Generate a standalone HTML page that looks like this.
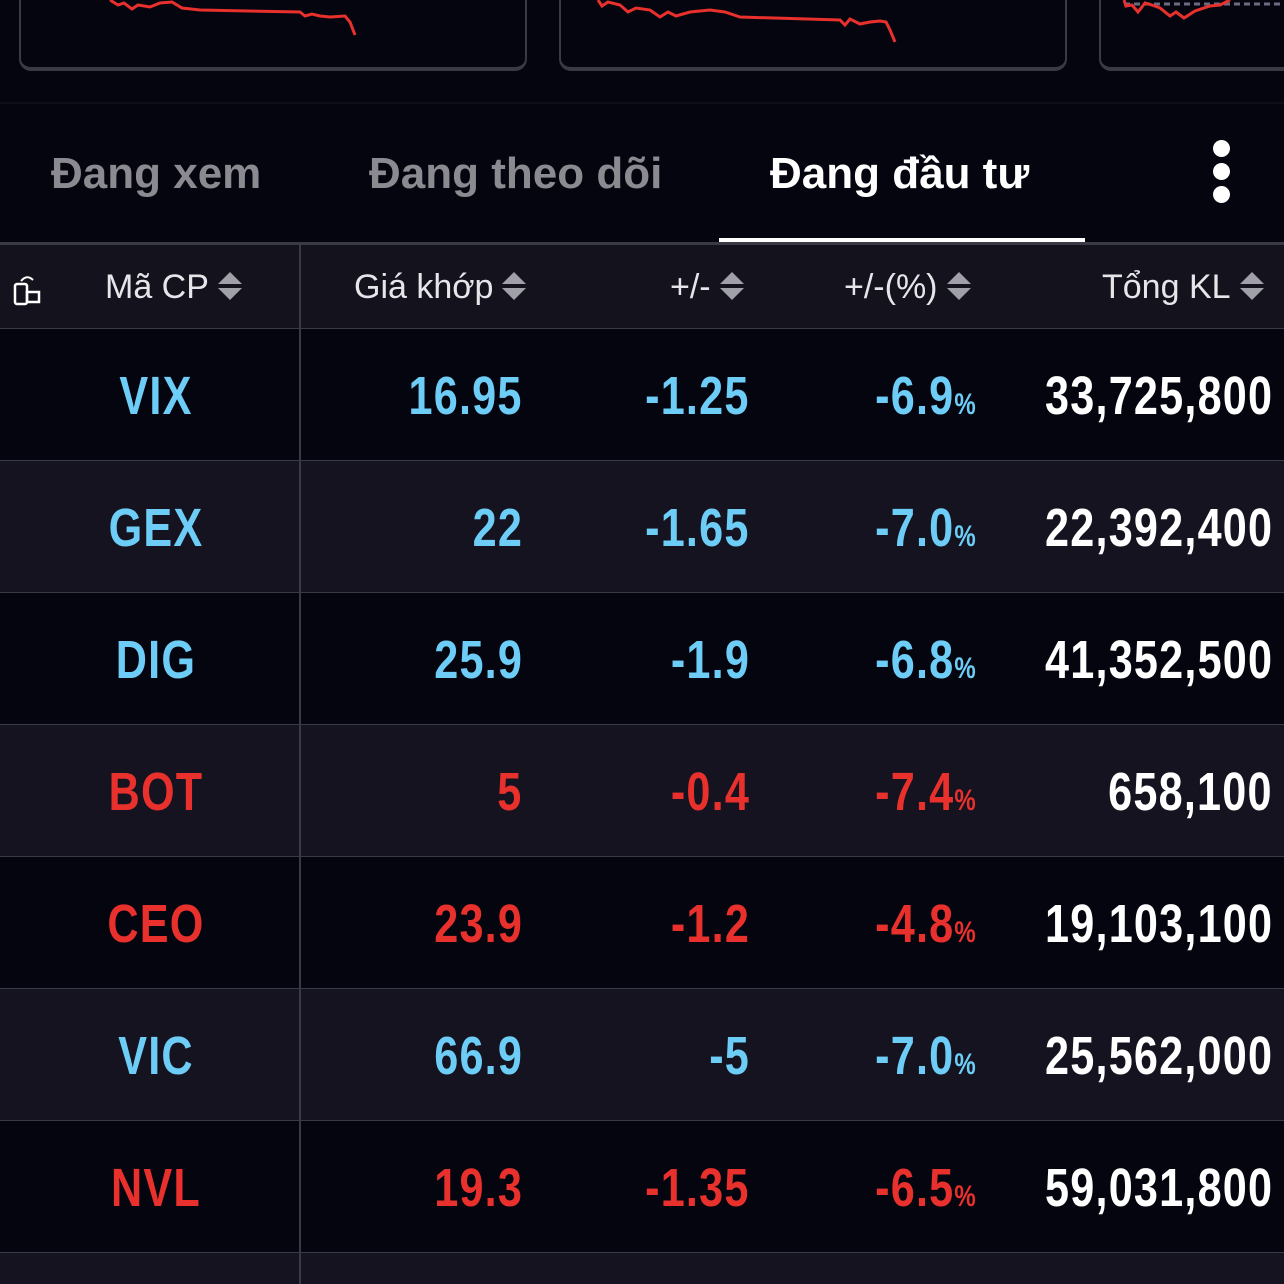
<!DOCTYPE html>
<html><head><meta charset="utf-8">
<style>
*{margin:0;padding:0;box-sizing:border-box}
html{width:1284px;height:1284px;overflow:hidden}
body{width:1284px;height:1284px;background:#05050f;overflow:hidden;font-family:"Liberation Sans",sans-serif;position:relative}
.card{position:absolute;top:-20px;width:508px;height:91px;border:2px solid #3a3a44;border-top:none;border-radius:0 0 12px 12px;border-bottom-width:4px}
.sep{position:absolute;left:0;top:102px;width:1284px;height:2px;background:#0e0e18}
.tab{position:absolute;top:149px;font-size:44px;font-weight:bold;color:#8a8a90}
.tab.active{color:#fff}
.uline{position:absolute;left:719px;top:238px;width:366px;height:4px;background:#fff}
.hdr{position:absolute;left:0;top:242px;width:1284px;height:87px;background:#14121d;border-top:3px solid #3a3a46;border-bottom:1px solid #3a3a46}
.hcell{position:absolute;font-size:34px;color:#e6e6ea;white-space:nowrap}
.sort{display:inline-block;vertical-align:middle;margin-left:8px;width:26px;height:30px;position:relative;top:-3px}
.row{position:absolute;left:0;width:1284px;height:132px;border-bottom:1px solid #3a3a46;overflow:hidden}
.cell{position:absolute;top:36px;font-weight:bold;font-size:54px;letter-spacing:1.5px;white-space:nowrap;transform:scaleX(0.8);transform-origin:right center}
.sym{left:0;width:312px;text-align:center;transform-origin:center center}
.r{text-align:right}
.pct{font-size:30px;letter-spacing:0}
.vline{position:absolute;left:299px;top:245px;width:2px;height:1039px;background:#3a3a46}
</style></head><body>
<div class="card" style="left:19px"></div>
<div class="card" style="left:559px"></div>
<div class="card" style="left:1099px;width:185px;border-right:none;border-radius:0 0 0 12px"></div>
<svg width="1284" height="110" style="position:absolute;left:0;top:0">
<polyline fill="none" stroke="#e8302c" stroke-width="3" points="110,0 118,5 124,3 132,9 138,5 150,7 160,3 172,2 182,8 200,10 300,12 305,16 312,14 320,16 330,17 345,16 350,22 355,35"/>
<polyline fill="none" stroke="#e8302c" stroke-width="3" points="598,0 602,6 608,2 620,5 628,12 636,8 650,10 660,17 668,12 676,16 690,12 710,10 725,12 740,17 840,20 845,25 850,19 860,24 870,22 880,21 886,22 890,30 895,42"/>
<line x1="1124" y1="4" x2="1284" y2="4" stroke="#6a6a80" stroke-width="3" stroke-dasharray="6,4"/>
<polyline fill="none" stroke="#e8302c" stroke-width="3" points="1124,0 1126,6 1132,5 1138,12 1145,3 1152,5 1160,8 1170,16 1176,12 1184,18 1195,11 1210,6 1220,5 1230,0"/>
</svg>
<div class="sep"></div>
<div class="tab" style="left:51px">Đang xem</div>
<div class="tab" style="left:369px">Đang theo dõi</div>
<div class="tab active" style="left:770px">Đang đầu tư</div>
<div style="position:absolute;left:1210px;top:140px;width:22px;height:64px">
<div style="width:17px;height:17px;border-radius:50%;background:#fff;margin:0 auto 6px"></div>
<div style="width:17px;height:17px;border-radius:50%;background:#fff;margin:0 auto 6px"></div>
<div style="width:17px;height:17px;border-radius:50%;background:#fff;margin:0 auto"></div></div>
<div class="uline"></div>
<div class="hdr">
<svg style="position:absolute;left:13px;top:29px" width="30" height="32" viewBox="0 0 30 32"><rect x="2" y="10" width="12" height="20" rx="2" fill="none" stroke="#fff" stroke-width="2.5"/><rect x="14" y="18" width="12" height="10" fill="none" stroke="#fff" stroke-width="2.5"/><path d="M8 7 Q14 0 20 6" fill="none" stroke="#fff" stroke-width="2"/></svg>
</div>
<div id="hcells"></div>
<div id="rows"></div>
<div class="vline"></div>
<script>
const symbols=["VIX","GEX","DIG","BOT","CEO","VIC","NVL"];
const prices=["16.95","22","25.9","5","23.9","66.9","19.3"];
const changes=["-1.25","-1.65","-1.9","-0.4","-1.2","-5","-1.35"];
const pcts=["-6.9","-7.0","-6.8","-7.4","-4.8","-7.0","-6.5"];
const volumes=["33,725,800","22,392,400","41,352,500","658,100","19,103,100","25,562,000","59,031,800"];
const colorsUp=["b","b","b","r","r","b","r"];
const headers=[["Mã CP",105,"header-ma-cp"],["Giá khớp",354,"header-gia-khop"],["+/-",670,"header-change"],["+/-(%)",844,"header-change-pct"],["Tổng KL",1102,"header-tong-kl"]];
const sortSvg='<svg class="sort" viewBox="0 0 26 30"><path d="M13 1 L25 13 L1 13Z" fill="#a0a0a8"/><path d="M13 29 L25 17 L1 17Z" fill="#a0a0a8"/></svg>';
const hc=document.getElementById('hcells');
headers.forEach(h=>{const d=document.createElement('div');d.className='hcell';d.style.left=h[1]+'px';d.style.top=(242+26)+'px';d.innerHTML=h[0]+sortSvg;


hc.appendChild(d);});
const rows=document.getElementById('rows');
symbols.forEach((s,i)=>{
const c=colorsUp[i]=="b"?"#6dcdf6":"#e8302c";
const r=document.createElement('div');r.className='row';r.style.top=(329+i*132)+'px';r.style.background=i%2?'#14131f':'#05050f';


r.innerHTML=`<div class="cell sym" style="color:${c}">${s}</div>
<div class="cell r" style="right:761px;color:${c}">${prices[i]}</div>
<div class="cell r" style="right:534px;color:${c}">${changes[i]}</div>
<div class="cell r" style="right:308px;color:${c}">${pcts[i]}<span class="pct">%</span></div>
<div class="cell r" style="right:11px;color:#fff">${volumes[i]}</div>`;
rows.appendChild(r);});
const last=document.createElement('div');last.className='row';last.style.top=(329+7*132)+'px';last.style.height='31px';last.style.borderBottom='none';last.style.background='#14131f';


rows.appendChild(last);
</script>
</body></html>
